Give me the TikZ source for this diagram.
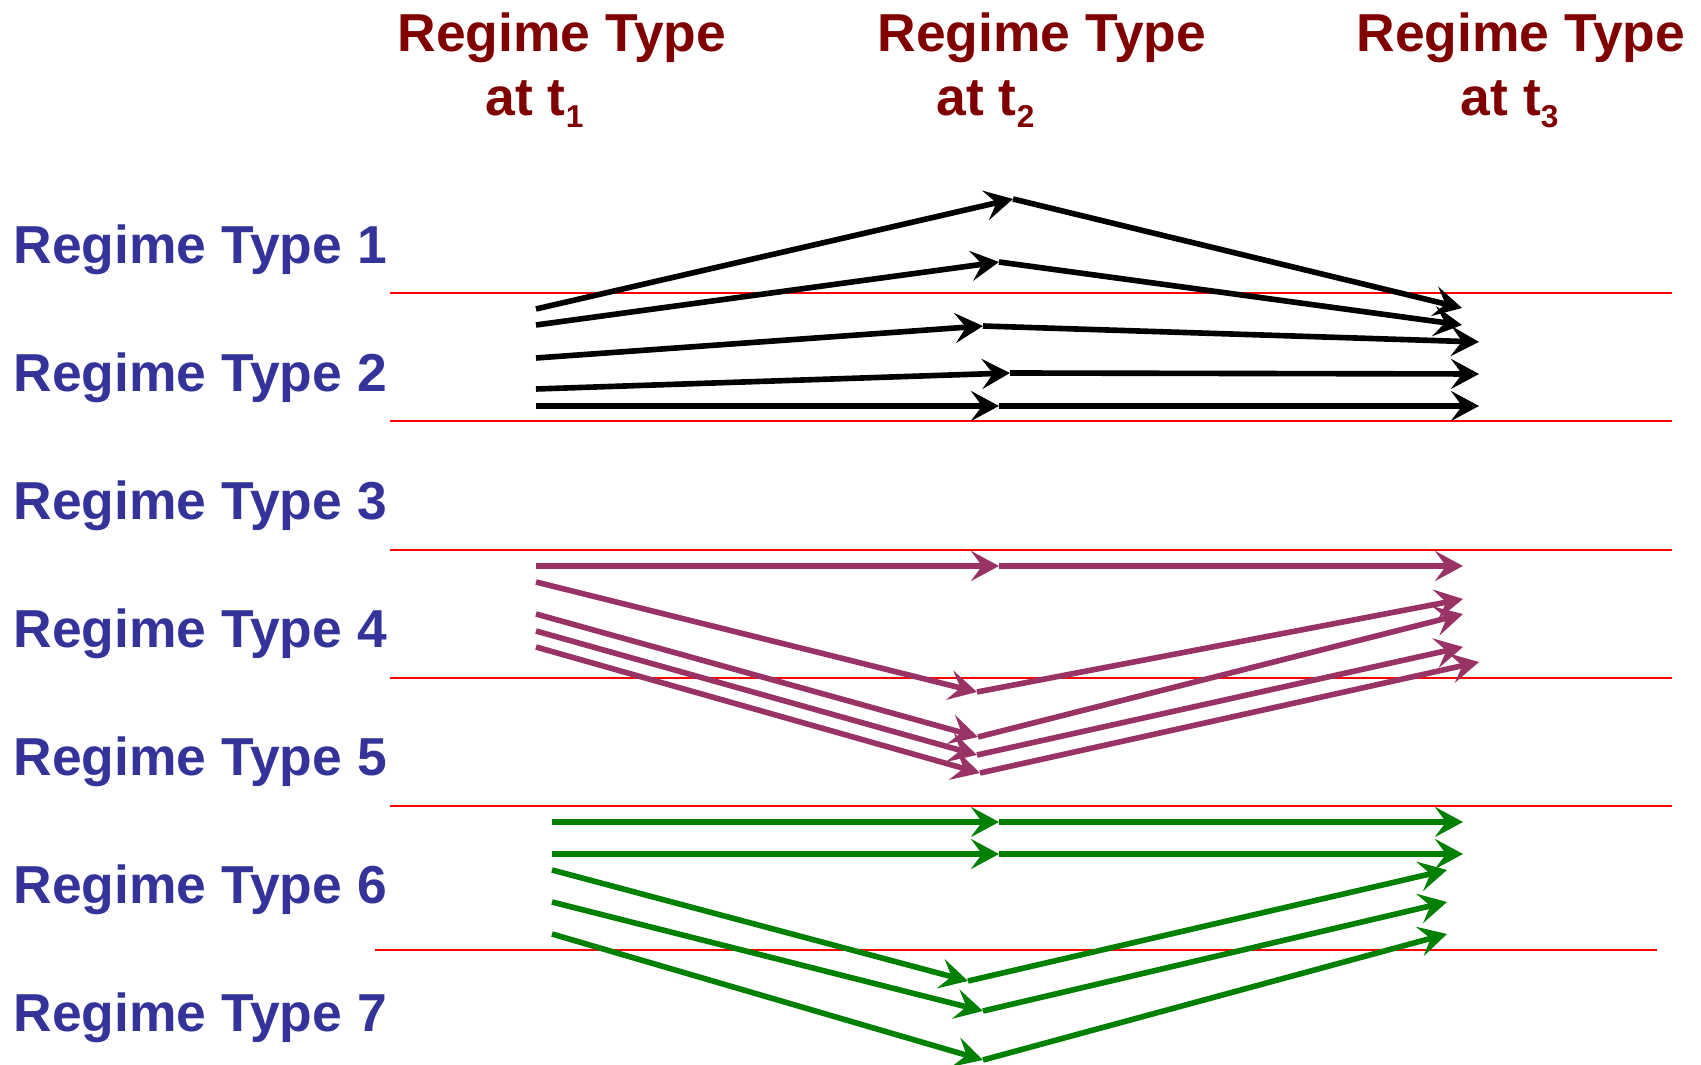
\documentclass[tikz,border=0pt]{standalone}
\usepackage{fontspec}
\setmainfont{Liberation Sans}
\usetikzlibrary{arrows.meta}
\definecolor{regblue}{HTML}{333399}
\definecolor{headred}{HTML}{800000}
\definecolor{movepurple}{HTML}{993366}
\definecolor{movegreen}{HTML}{008000}
\newcommand{\tsub}[1]{t\raisebox{-3.4pt}{\fontsize{9}{9}\selectfont #1}}

\begin{document}
\begin{tikzpicture}[x=0.1mm, y=-0.1mm,
    regime/.style={anchor=base west, inner sep=0pt, text=regblue,
      font=\fontsize{15.2}{18}\selectfont\bfseries},
    head/.style={anchor=base west, inner sep=0pt, text=headred,
      font=\fontsize{15.2}{18}\selectfont\bfseries},
    border/.style={red, line width=0.5pt},
    move/.style={line width=1.6pt, -{Stealth[length=2.8mm, width=3mm, inset=1.1mm]}}]
  \useasboundingbox (0,0) rectangle (1701,1065);

  % column heads
  \node[head] (h1) at (397,51.7) {Regime Type};
  \node[head] (h1t) at (485,116) {at \tsub{1}};
  \node[head] (h2) at (877,51.7) {Regime Type};
  \node[head] (h2t) at (936,116) {at \tsub{2}};
  \node[head] (h3) at (1356,51.7) {Regime Type};
  \node[head] (h3t) at (1460,116) {at \tsub{3}};

  % row labels
  \foreach \i in {1,...,7}
    \node[regime] (r\i) at (13,{263.3+128*(\i-1)}) {Regime Type \i};

  % borders between regimes
  \foreach \y in {293,421,550,678,806}
    \draw[border] (390,\y) -- (1672,\y);
  \draw[border] (375,950) -- (1657,950);

  % black paths
  \foreach \n/\ay/\mx/\my/\ex/\ey in {1/309/1013/199/1462/308, 2/325/999/262/1462/325,
      3/358/983/326/1479/342, 4/389/1010/373/1479/374, 5/406/999/406/1479/406} {
    \coordinate (k\n a) at (536,\ay);
    \coordinate (k\n m) at (\mx,\my);
    \coordinate (k\n e) at (\ex,\ey);
    \draw[move] (k\n a) -- (k\n m);
    \draw[move] (k\n m) -- (k\n e);
  }

  % purple paths
  \foreach \n/\ay/\mx/\my/\ex/\ey in {1/566/999/566/1463/566, 2/582/977/692/1463/599,
      3/614/978/737/1463/614, 4/631/977/755/1463/647, 5/647/980/773/1479/662} {
    \coordinate (p\n a) at (536,\ay);
    \coordinate (p\n m) at (\mx,\my);
    \coordinate (p\n e) at (\ex,\ey);
    \draw[move, movepurple] (p\n a) -- (p\n m);
    \draw[move, movepurple] (p\n m) -- (p\n e);
  }

  % green paths
  \foreach \n/\ay/\mx/\my/\ex/\ey in {1/822/999/822/1463/822, 2/854/999/854/1463/854,
      3/870/968/981/1447/870, 4/902/983/1011/1447/902, 5/934/983/1060/1447/934} {
    \coordinate (g\n a) at (552,\ay);
    \coordinate (g\n m) at (\mx,\my);
    \coordinate (g\n e) at (\ex,\ey);
    \draw[move, movegreen] (g\n a) -- (g\n m);
    \draw[move, movegreen] (g\n m) -- (g\n e);
  }
\end{tikzpicture}
\end{document}
